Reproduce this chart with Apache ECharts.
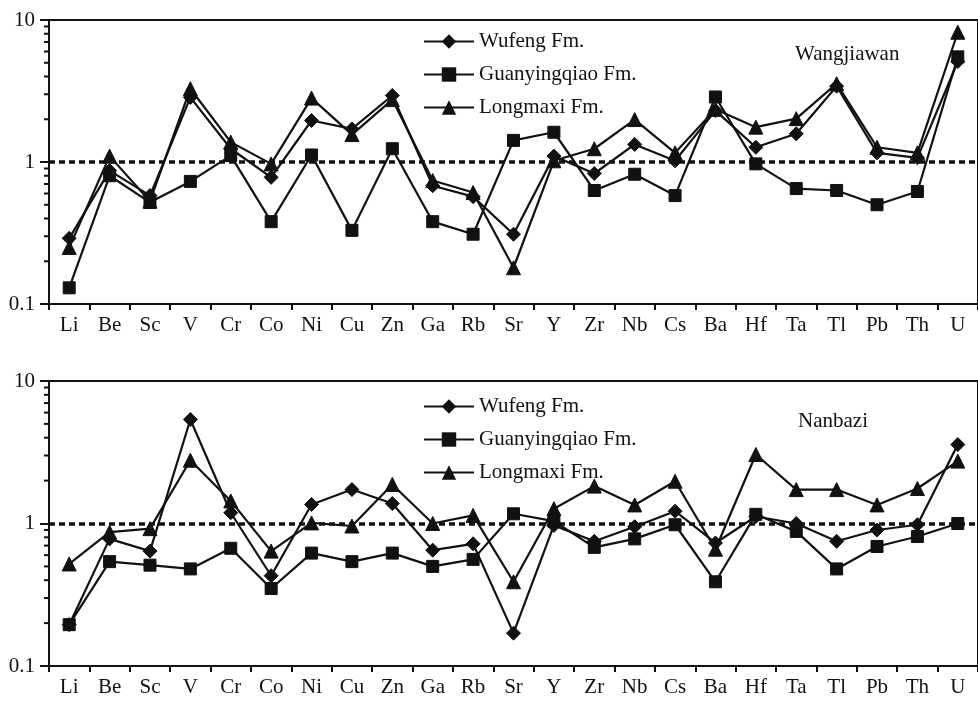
<!DOCTYPE html>
<html>
<head>
<meta charset="utf-8">
<style>
  html, body { margin: 0; padding: 0; background: #fff; }
  #chart { width: 978px; height: 701px; }
</style>
<script src="https://cdn.jsdelivr.net/npm/echarts@6/dist/echarts.min.js"></script>
</head>
<body>
<div id="chart"></div>
<script>
// Trace-element enrichment factors, normalised (log scale), two sections.
const elements = ['Li','Be','Sc','V','Cr','Co','Ni','Cu','Zn','Ga','Rb','Sr','Y','Zr','Nb','Cs','Ba','Hf','Ta','Tl','Pb','Th','U'];
const seriesNames = ['Wufeng Fm.', 'Guanyingqiao Fm.', 'Longmaxi Fm.'];
const sectionNames = ['Wangjiawan', 'Nanbazi'];

// Wangjiawan section
const wangWufeng       = [0.29, 0.87, 0.58, 2.85, 1.24, 0.78, 1.96, 1.71, 2.94, 0.68, 0.57, 0.31, 1.10, 0.83, 1.33, 1.02, 2.30, 1.27, 1.58, 3.42, 1.16, 1.07, 5.1];
const wangGuanyingqiao = [0.13, 0.80, 0.52, 0.73, 1.11, 0.38, 1.12, 0.33, 1.24, 0.38, 0.31, 1.42, 1.62, 0.63, 0.82, 0.58, 2.87, 0.97, 0.65, 0.63, 0.50, 0.62, 5.5];
const wangLongmaxi     = [0.25, 1.10, 0.53, 3.28, 1.38, 0.97, 2.82, 1.56, 2.75, 0.74, 0.61, 0.18, 1.02, 1.24, 1.99, 1.16, 2.35, 1.76, 2.02, 3.56, 1.27, 1.16, 8.2];

// Nanbazi section
const nanWufeng        = [0.195, 0.78, 0.64, 5.37, 1.19, 0.43, 1.36, 1.73, 1.38, 0.65, 0.72, 0.17, 0.97, 0.75, 0.95, 1.22, 0.73, 1.12, 1.00, 0.75, 0.90, 0.98, 3.58];
const nanGuanyingqiao  = [0.195, 0.54, 0.51, 0.48, 0.67, 0.35, 0.62, 0.54, 0.62, 0.50, 0.56, 1.17, 1.04, 0.68, 0.78, 0.98, 0.39, 1.16, 0.88, 0.48, 0.69, 0.81, 1.00];
const nanLongmaxi      = [0.52, 0.87, 0.92, 2.78, 1.44, 0.64, 1.01, 0.96, 1.88, 1.00, 1.14, 0.39, 1.27, 1.83, 1.35, 1.98, 0.66, 3.05, 1.73, 1.73, 1.35, 1.76, 2.74];

// Axis range and minor log ticks
const yMin = 0.1, yMax = 10;
const referenceLevel = 1;
const minorTickValues = [0.2, 0.3, 0.4, 0.5, 0.6, 0.7, 0.8, 0.9, 2, 3, 4, 5, 6, 7, 8, 9];

const FONT = "'Liberation Serif', 'Times New Roman', serif";
const FONT_SIZE = 21;
const INK = '#111';
const symbols = ['diamond', 'rect', 'triangle'];
const symbolSizes = [14, 12, 14];

const panels = [
  { top: 20, height: 284, data: [wangWufeng, wangGuanyingqiao, wangLongmaxi], legendTop: 31, titleTop: 44 },
  { top: 381, height: 285, data: [nanWufeng, nanGuanyingqiao, nanLongmaxi], legendTop: 396, titleTop: 411 }
];

const grids = [], xAxes = [], yAxes = [], series = [], legends = [], titles = [];

panels.forEach((p, gi) => {
  grids.push({
    left: 49, right: -11, top: p.top, height: p.height,
    show: true, borderColor: INK, borderWidth: 2, backgroundColor: 'transparent'
  });
  xAxes.push({
    type: 'category', gridIndex: gi, data: elements, boundaryGap: true,
    axisLine: { lineStyle: { color: INK, width: 2 } },
    axisTick: { show: true, length: 6, inside: false, lineStyle: { color: INK, width: 2 } },
    axisLabel: { color: INK, fontFamily: FONT, fontSize: FONT_SIZE, margin: 11, interval: 0 },
    splitLine: { show: false }
  });
  yAxes.push({
    type: 'log', logBase: 10, gridIndex: gi, min: yMin, max: yMax,
    axisLine: { show: true, lineStyle: { color: INK, width: 2 } },
    axisTick: { show: true, length: 9, lineStyle: { color: INK, width: 2 } },
    axisLabel: { color: INK, fontFamily: FONT, fontSize: FONT_SIZE, margin: 14,
      formatter: v => String(+v.toPrecision(3)) },
    splitLine: { show: false }
  });

  p.data.forEach((vals, si) => {
    const s = {
      name: seriesNames[si], type: 'line', xAxisIndex: gi, yAxisIndex: gi,
      data: vals, symbol: symbols[si], symbolSize: symbolSizes[si],
      showAllSymbol: true,
      lineStyle: { color: INK, width: 2.2 },
      itemStyle: { color: INK, borderColor: INK },
      emphasis: { disabled: true },
      animation: false, z: 3
    };
    if (si === 0) {
      s.markLine = {
        silent: true, symbol: ['none', 'none'], label: { show: false },
        lineStyle: { color: INK, width: 3.5, type: [6, 4] },
        data: [{ yAxis: referenceLevel }],
        animation: false
      };
    }
    series.push(s);
  });

  // minor ticks on the log axis (2..9 within each decade)
  series.push({
    type: 'custom', xAxisIndex: gi, yAxisIndex: gi, silent: true, animation: false,
    data: minorTickValues.map(v => [0, v]),
    renderItem: (params, api) => {
      const y = api.coord([0, api.value(1)])[1];
      const x0 = params.coordSys.x;
      return {
        type: 'line',
        shape: { x1: x0 - 5, y1: y, x2: x0, y2: y },
        style: { stroke: INK, lineWidth: 2 }
      };
    }
  });

  legends.push({
    data: seriesNames, orient: 'vertical', left: 423, top: p.legendTop,
    padding: 0,
    itemWidth: 50, itemHeight: 18, itemGap: 12,
    textStyle: { color: INK, fontFamily: FONT, fontSize: FONT_SIZE, padding: [0, 0, 0, 0] },
    selectedMode: false,
    inactiveColor: INK
  });

  titles.push({
    text: sectionNames[gi], left: gi === 0 ? 795 : 798, top: p.titleTop, padding: 0,
    textStyle: { color: INK, fontFamily: FONT, fontSize: FONT_SIZE, fontWeight: 'normal' }
  });
});

const chart = echarts.init(document.getElementById('chart'), null, { renderer: 'canvas' });
chart.setOption({
  backgroundColor: '#fff',
  animation: false,
  grid: grids,
  xAxis: xAxes,
  yAxis: yAxes,
  legend: legends,
  title: titles,
  series: series
});
</script>
</body>
</html>
